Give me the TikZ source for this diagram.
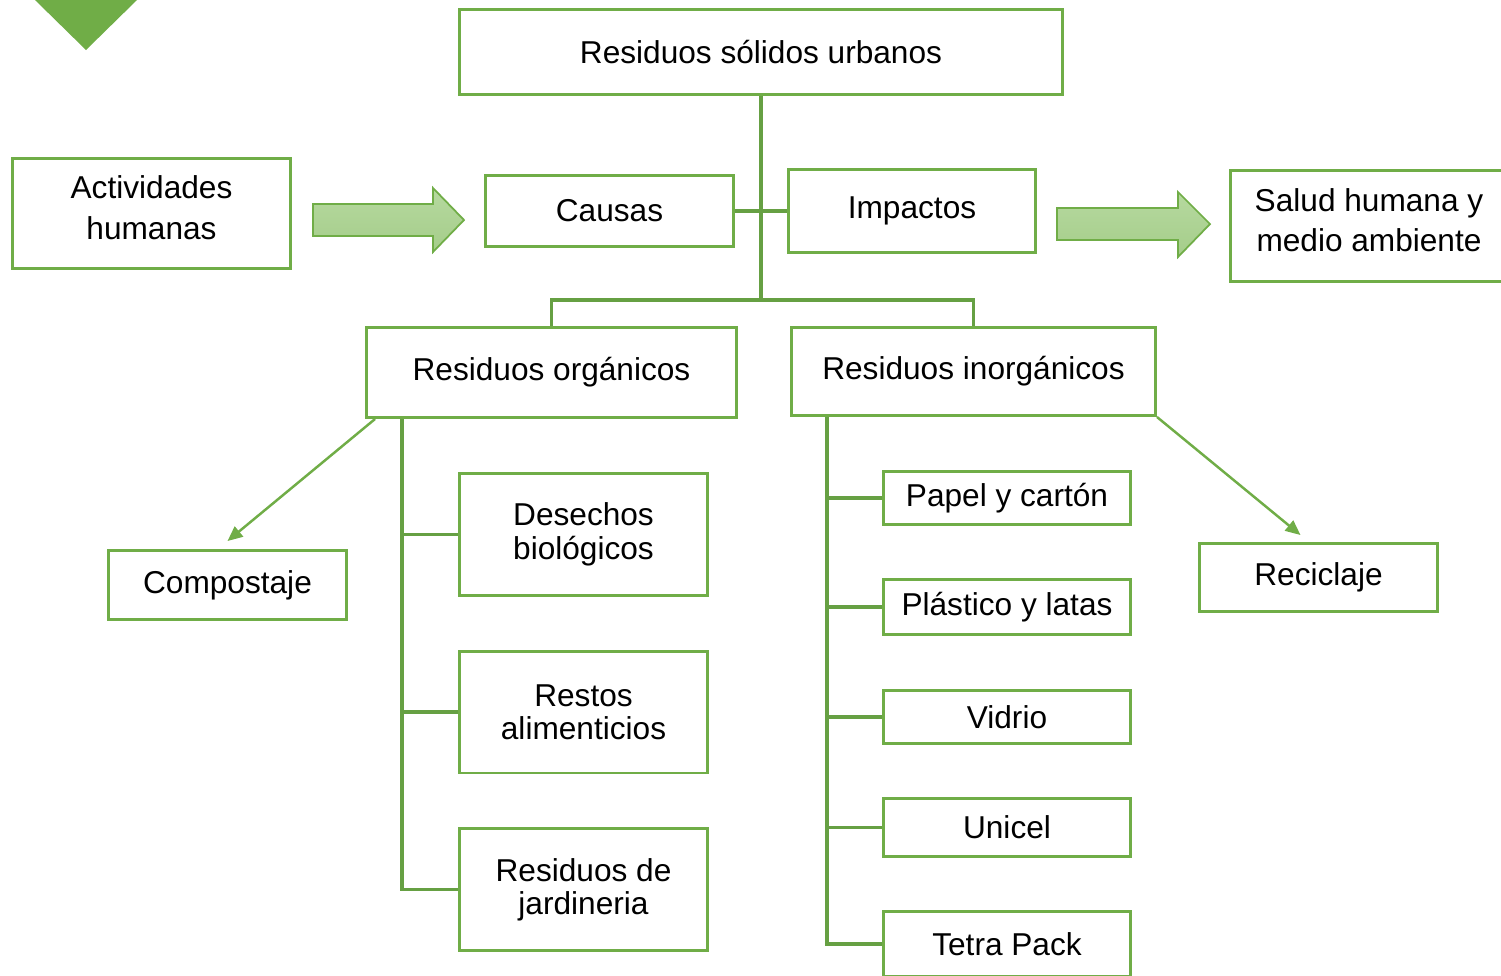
\documentclass[tikz,border=0pt]{standalone}
\usepackage{fontspec}
\setmainfont{Liberation Sans}
\usepackage{tikz}
\usetikzlibrary{arrows.meta}
\definecolor{primary}{HTML}{70AD47}
\definecolor{branchcol}{HTML}{66A043}
\definecolor{arrowtop}{HTML}{B6D99F}
\definecolor{arrowbot}{HTML}{A5CD8A}

\begin{document}
\begin{tikzpicture}[
    x=0.02cm, y=-0.02cm,
    box/.style={draw=primary, line width=1.7pt, fill=white, inner sep=2pt, align=center,
        font=\fontsize{18}{23}\selectfont},
    tightbox/.style={box, font=\fontsize{18}{19}\selectfont},
    branch/.style={draw=branchcol, line width=2pt},
    arrow/.style={-{Triangle[length=0.3cm,width=0.26cm]}, line width=1.4pt, color=primary},
    bigarrow/.style={draw=primary, line width=1pt, top color=arrowtop, bottom color=arrowbot}
]
    \clip (0,0) rectangle (1501,975);

    % corner mark
    \fill[primary] (35,0) -- (137,0) -- (86,50) -- cycle;

    % top level
    \node[box, minimum width=12.06cm, minimum height=1.7cm] (rsu) at (761,52) {Residuos sólidos urbanos};
    \node[box, minimum width=5.56cm, minimum height=2.2cm] (actividades) at (151.5,213.5) {Actividades\\humanas\\[-0.57cm]};
    \node[box, minimum width=4.96cm, minimum height=1.42cm] (causas) at (609.5,211) {Causas};
    \node[box, minimum width=4.94cm, minimum height=1.66cm] (impactos) at (912,211) {Impactos};
    \node[box, minimum width=5.54cm, minimum height=2.22cm] (salud) at (1369,226) {Salud humana y\\medio ambiente\\[-0.57cm]};

    % block arrows
    \draw[bigarrow] (313,204) -- (433,204) -- (433,188) -- (464,220) -- (433,252) -- (433,236) -- (313,236) -- cycle;
    \draw[bigarrow] (1057,208) -- (1178,208) -- (1178,192) -- (1210,224) -- (1178,257) -- (1178,240) -- (1057,240) -- cycle;

    % second level
    \node[box, minimum width=7.4cm, minimum height=1.8cm] (organicos) at (551.5,372.5) {Residuos orgánicos};
    \node[box, minimum width=7.28cm, minimum height=1.76cm] (inorganicos) at (973.5,371.5) {Residuos inorgánicos};

    % organic branch
    \node[tightbox, minimum width=4.96cm, minimum height=2.44cm] (desechos) at (583.5,534.5) {Desechos\\biológicos};
    \node[tightbox, minimum width=4.96cm, minimum height=2.44cm] (restos) at (583.5,712) {Restos\\alimenticios};
    \node[tightbox, minimum width=4.96cm, minimum height=2.44cm] (jardin) at (583.5,889.5) {Residuos de\\jardineria};
    \node[box, minimum width=4.76cm, minimum height=1.38cm] (compost) at (227.5,585) {Compostaje};

    % inorganic branch
    \node[box, minimum width=4.94cm, minimum height=1.06cm] (papel) at (1007,498) {Papel y cartón};
    \node[box, minimum width=4.94cm, minimum height=1.1cm] (plastico) at (1007,607) {Plástico y latas};
    \node[box, minimum width=4.94cm, minimum height=1.06cm] (vidrio) at (1007,717) {Vidrio};
    \node[box, minimum width=4.94cm, minimum height=1.16cm] (unicel) at (1007,827.5) {Unicel};
    \node[box, minimum width=4.94cm, minimum height=1.3cm] (tetra) at (1007,944) {Tetra Pack};
    \node[box, minimum width=4.76cm, minimum height=1.36cm] (reciclaje) at (1318.5,577.5) {Reciclaje};

    % junctions
    \coordinate (split) at (761,300);
    \coordinate (otrunk) at (402,419);
    \coordinate (itrunk) at (827,417);

    \draw[branch] (rsu.south) -- (split);
    \draw[branch] (causas.east) -- (impactos.west);
    \draw[branch] (split) -| (organicos.north);
    \draw[branch] (split) -| (inorganicos.north);
    \foreach \n in {desechos,restos,jardin}
        \draw[branch] (otrunk) |- (\n.west);
    \foreach \n in {papel,plastico,vidrio,unicel,tetra}
        \draw[branch] (itrunk) |- (\n.west);

    \draw[arrow] ([xshift=0.2cm]organicos.south west) -- ([yshift=0.16cm]compost.north);
    \draw[arrow] (inorganicos.south east) -- ([xshift=-0.36cm,yshift=0.14cm]reciclaje.north);
\end{tikzpicture}
\end{document}
